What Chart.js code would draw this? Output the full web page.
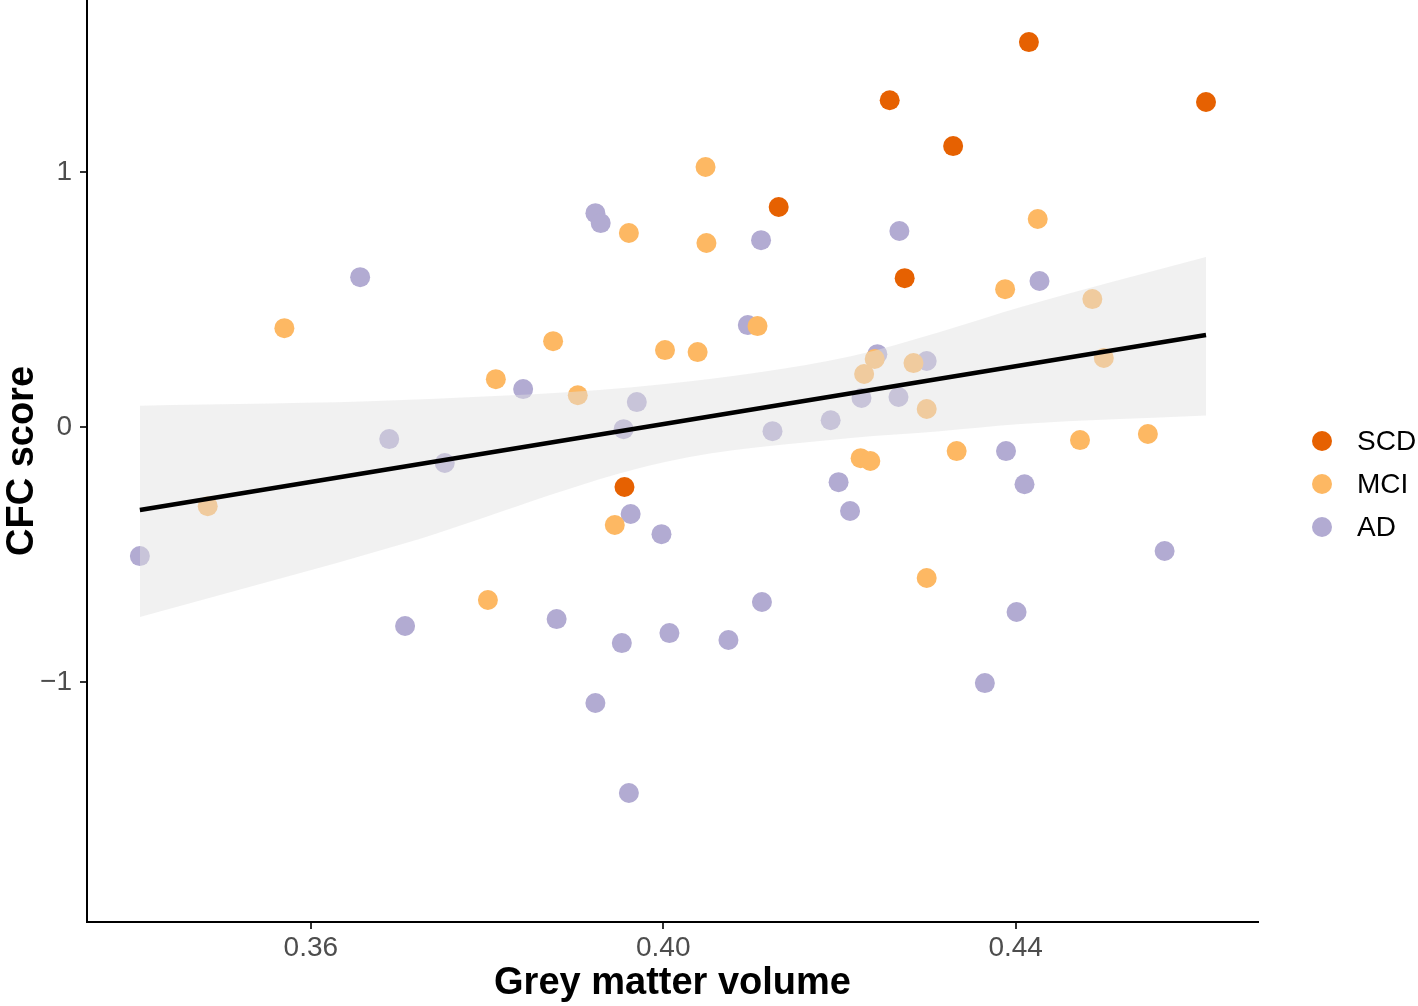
<!DOCTYPE html>
<html lang="en">
<head>
    <meta charset="UTF-8">
    <title>CFC score vs grey matter volume</title>
    <script src="https://cdn.jsdelivr.net/npm/chart.js"></script>
    <style>
        html, body { margin: 0; padding: 0; background: #fff; overflow: hidden; }
        canvas { display: block; }
    </style>
</head>
<body>
    <canvas id="scatterChart" width="1418" height="1006"></canvas>

    <script>
        // groups
        const groupNames = ['SCD', 'MCI', 'AD'];
        const groupColors = ['#E66101', '#FDB863', '#B2ABD2'];

        // SCD
        const scdX = [0.4415, 0.4257, 0.4616, 0.4329, 0.4131, 0.4274, 0.3956];
        const scdY = [1.510, 1.282, 1.275, 1.102, 0.863, 0.584, -0.235];

        // MCI
        const mciX = [0.4048, 0.4425, 0.3961, 0.4049, 0.4388, 0.4487, 0.3570, 0.4107, 0.3875,
                      0.4002, 0.4039, 0.3810, 0.3903, 0.4240, 0.4228, 0.4284, 0.4500, 0.4299,
                      0.4473, 0.4550, 0.4333, 0.4224, 0.4235, 0.3483, 0.3945, 0.4299, 0.3801];
        const mciY = [1.020, 0.816, 0.761, 0.722, 0.541, 0.502, 0.388, 0.396, 0.337,
                      0.302, 0.294, 0.188, 0.125, 0.267, 0.208, 0.251, 0.271, 0.071,
                      -0.051, -0.027, -0.094, -0.122, -0.133, -0.310, -0.384, -0.592, -0.678];

        // AD
        const adX = [0.3923, 0.3929, 0.4111, 0.4268, 0.3656, 0.4427, 0.4096, 0.4243, 0.4299,
                     0.3841, 0.3970, 0.4225, 0.4267, 0.4190, 0.3955, 0.4124, 0.3689, 0.3752,
                     0.4389, 0.4199, 0.4410, 0.4212, 0.3963, 0.3998, 0.3406, 0.4569, 0.4112,
                     0.4401, 0.3879, 0.3707, 0.4007, 0.4074, 0.3953, 0.4365, 0.3923, 0.3961];
        const adY = [0.839, 0.800, 0.733, 0.769, 0.588, 0.573, 0.400, 0.286, 0.259,
                     0.149, 0.098, 0.114, 0.118, 0.027, -0.008, -0.016, -0.047, -0.141,
                     -0.094, -0.216, -0.224, -0.329, -0.341, -0.420, -0.506, -0.486, -0.686,
                     -0.725, -0.753, -0.780, -0.808, -0.835, -0.847, -1.004, -1.082, -1.435];

        // fitted line and confidence band
        const fitX = [0.3406, 0.4616];
        const fitY = [-0.325, 0.361];
        const bandX = [0.3406, 0.3704, 0.4002, 0.4213, 0.4314, 0.4406, 0.4616];
        const bandUpper = [0.084, 0.106, 0.169, 0.278, 0.373, 0.471, 0.667];
        const bandLower = [-0.745, -0.459, -0.137, -0.043, -0.016, 0.012, 0.045];

        // ticks
        const xTicks = [0.36, 0.40, 0.44];
        const yTicks = [-1, 0, 1];

        const pts = (xs, ys) => xs.map((x, i) => ({ x: x, y: ys[i] }));

        // no label padding around the panel
        const noPad = axis => {
            axis.paddingTop = 0;
            axis.paddingBottom = 0;
            axis.paddingLeft = 0;
            axis.paddingRight = 0;
        };

        // legend drawn to the right of the panel
        const sideLegend = {
            id: 'sideLegend',
            afterDraw(chart) {
                const ctx = chart.ctx;
                ctx.save();
                ctx.font = '28px "Liberation Sans", Arial, sans-serif';
                ctx.textBaseline = 'middle';
                groupNames.forEach((name, i) => {
                    const cy = 441 + i * 43;
                    ctx.beginPath();
                    ctx.arc(1322, cy, 10, 0, Math.PI * 2);
                    ctx.fillStyle = groupColors[i];
                    ctx.fill();
                    ctx.fillStyle = '#000';
                    ctx.fillText(name, 1357, cy + 1);
                });
                ctx.restore();
            }
        };

        const ctx = document.getElementById('scatterChart').getContext('2d');
        new Chart(ctx, {
            type: 'scatter',
            data: {
                datasets: [
                    {
                        type: 'line',
                        label: 'fit',
                        data: pts(fitX, fitY),
                        borderColor: '#000',
                        borderWidth: 4.5,
                        pointRadius: 0,
                        fill: false
                    },
                    {
                        type: 'line',
                        label: 'lower',
                        data: pts(bandX, bandLower),
                        borderWidth: 0,
                        borderColor: 'rgba(0,0,0,0)',
                        pointRadius: 0,
                        cubicInterpolationMode: 'monotone',
                        fill: false
                    },
                    {
                        type: 'line',
                        label: 'upper',
                        data: pts(bandX, bandUpper),
                        borderWidth: 0,
                        borderColor: 'rgba(0,0,0,0)',
                        pointRadius: 0,
                        cubicInterpolationMode: 'monotone',
                        fill: { target: '-1' },
                        backgroundColor: 'rgba(226,226,226,0.47)'
                    },
                    {
                        label: 'SCD',
                        data: pts(scdX, scdY),
                        backgroundColor: groupColors[0],
                        pointRadius: 10,
                        borderWidth: 0
                    },
                    {
                        label: 'MCI',
                        data: pts(mciX, mciY),
                        backgroundColor: groupColors[1],
                        pointRadius: 10,
                        borderWidth: 0
                    },
                    {
                        label: 'AD',
                        data: pts(adX, adY),
                        backgroundColor: groupColors[2],
                        pointRadius: 10,
                        borderWidth: 0
                    }
                ]
            },
            options: {
                responsive: false,
                animation: false,
                devicePixelRatio: 1,
                layout: { autoPadding: false, padding: { left: 0, right: 160, top: 0, bottom: 0 } },
                plugins: {
                    legend: { display: false },
                    tooltip: { enabled: false }
                },
                scales: {
                    x: {
                        type: 'linear',
                        min: 0.3346,
                        max: 0.4675,
                        afterBuildTicks: axis => { axis.ticks = xTicks.map(v => ({ value: v })); },
                        afterFit: axis => { axis.height = 84; noPad(axis); },
                        ticks: {
                            color: '#4D4D4D',
                            font: { family: '"Liberation Sans", Arial', size: 28 },
                            padding: 2,
                            autoSkip: false,
                            maxRotation: 0,
                            callback: v => v.toFixed(2)
                        },
                        grid: { drawOnChartArea: false, drawTicks: true, tickLength: 7, color: '#333', lineWidth: 2 },
                        border: { display: true, color: '#000', width: 2 },
                        title: {
                            display: true,
                            text: 'Grey matter volume',
                            color: '#000',
                            font: { family: '"Liberation Sans", Arial', size: 38, weight: 'bold' },
                            padding: { top: 0, bottom: 0 }
                        }
                    },
                    y: {
                        min: -1.941,
                        max: 1.675,
                        afterBuildTicks: axis => { axis.ticks = yTicks.map(v => ({ value: v })); },
                        afterFit: axis => { axis.width = 87; noPad(axis); },
                        ticks: {
                            color: '#4D4D4D',
                            font: { family: '"Liberation Sans", Arial', size: 28 },
                            padding: 8,
                            callback: v => v < 0 ? '\u2212' + Math.abs(v) : String(v)
                        },
                        grid: { drawOnChartArea: false, drawTicks: true, tickLength: 7, color: '#333', lineWidth: 2 },
                        border: { display: true, color: '#000', width: 2 },
                        title: {
                            display: true,
                            text: 'CFC score',
                            color: '#000',
                            font: { family: '"Liberation Sans", Arial', size: 38, weight: 'bold' },
                            padding: { top: 0, bottom: 0 }
                        }
                    }
                }
            },
            plugins: [sideLegend]
        });
    </script>
</body>
</html>
